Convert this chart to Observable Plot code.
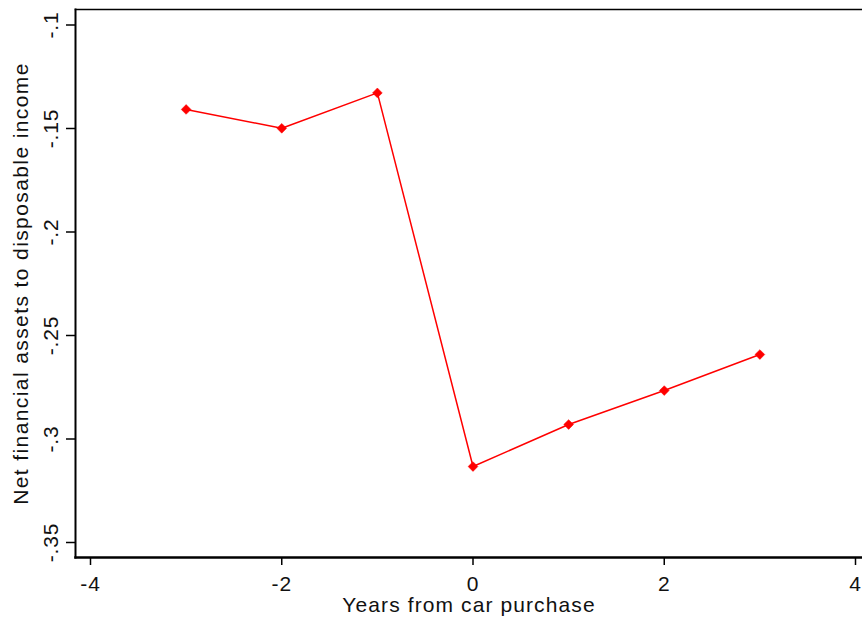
<!DOCTYPE html>
<html>
<head>
<meta charset="utf-8">
<script src="https://cdn.jsdelivr.net/npm/d3@7"></script>
<script src="https://cdn.jsdelivr.net/npm/@observablehq/plot@0.6"></script>
<style>
  html, body { margin: 0; padding: 0; background: #fff; }
</style>
</head>
<body>
<div id="chart"></div>
<script>
const years = [-3, -2, -1, 0, 1, 2, 3];
const values = [-0.1408, -0.1499, -0.1328, -0.3133, -0.2930, -0.2766, -0.2592];
const xTicks = [-4, -2, 0, 2, 4];
const yTicks = [-0.1, -0.15, -0.2, -0.25, -0.3, -0.35];
const xTitle = "Years from car purchase";
const yTitle = "Net financial assets to disposable income";

const data = years.map((x, i) => ({x, y: values[i]}));
const fmtY = v => String(v).replace("0.", ".");
const yLabels = yTicks.map(fmtY);
const xLabels = xTicks.map(String);

const chart = Plot.plot({
  width: 862,
  height: 618,
  marginLeft: 75,
  marginTop: 9,
  marginBottom: 61,
  marginRight: 0,
  style: {fontFamily: "'Liberation Sans', Arial, sans-serif", fontSize: "20px", background: "#fff", color: "#000"},
  x: {domain: [-4, 4], range: [90, 855], axis: null},
  y: {domain: [-0.35, -0.1], range: [542, 24.5], axis: null},
  marks: [
    Plot.frame({anchor: "top", stroke: "#000", strokeWidth: 1.5}),
    Plot.frame({anchor: "left", stroke: "#000", strokeWidth: 2}),
    Plot.frame({anchor: "bottom", stroke: "#000", strokeWidth: 2.5}),
    Plot.axisY({ticks: yTicks, tickSize: 9, tickFormat: () => "", label: null, strokeWidth: 1.5, anchor: "left"}),
    Plot.axisX({ticks: xTicks, tickSize: 8, tickFormat: () => "", label: null, strokeWidth: 1.5, anchor: "bottom"}),
    Plot.text(yTicks, {y: d => d, text: fmtY, frameAnchor: "left", dx: -24, rotate: -90, textAnchor: "middle", lineAnchor: "middle", fontSize: 21, fill: "#111"}),
    Plot.text(xTicks, {x: d => d, text: d => String(d), frameAnchor: "bottom", dy: 27, textAnchor: "middle", lineAnchor: "middle", fontSize: 21, fill: "#111"}),
    Plot.text([xTitle], {text: d => d, frameAnchor: "bottom", dy: 48, textAnchor: "middle", lineAnchor: "middle", fontSize: 21, fill: "#111"}),
    Plot.text([yTitle], {text: d => d, frameAnchor: "left", dx: -54, rotate: -90, textAnchor: "middle", lineAnchor: "middle", fontSize: 21, fill: "#111"}),
    Plot.line(data, {x: "x", y: "y", stroke: "#ff0000", strokeWidth: 1.5}),
    Plot.dot(data, {x: "x", y: "y", symbol: "diamond2", r: 4.4, fill: "#ff0000", stroke: "#ff0000", strokeWidth: 0.5})
  ]
});
const svgSel = d3.select(chart);
svgSel.selectAll("text").each(function() {
  const t = this.textContent;
  if (t === xTitle) this.style.letterSpacing = "1.1px";
  else if (t === yTitle) this.style.letterSpacing = "1.4px";
  else if (yLabels.includes(t) || xLabels.includes(t)) this.style.letterSpacing = "0.8px";
});
document.getElementById("chart").appendChild(chart);
</script>
</body>
</html>
